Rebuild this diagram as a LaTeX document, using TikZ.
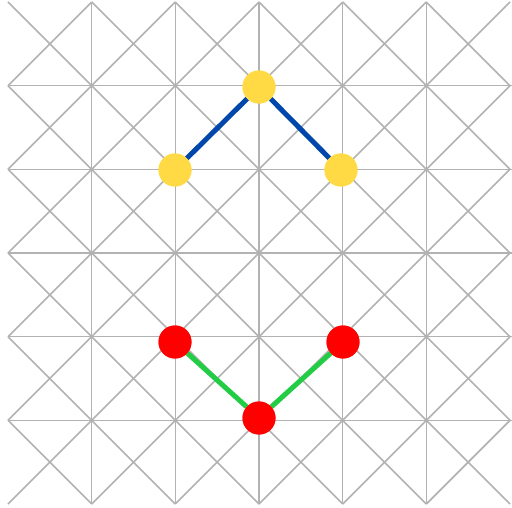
\documentclass[tikz,border=0pt]{standalone}
\begin{document}
\begin{tikzpicture}[x=1pt,y=-1pt,
  gridline/.style={draw=black!30,line width=1.6pt},
  yellowdot/.style={circle,fill=yellow!70!orange!90!white,inner sep=0pt,minimum size=33pt},
  reddot/.style={circle,fill=red,inner sep=0pt,minimum size=33pt},
  blueline/.style={draw=blue!70!black,line width=5pt},
  greenline/.style={draw=green!75!black!80!white,line width=5pt}]
\definecolor{ydot}{RGB}{255,218,68}
\definecolor{bl}{RGB}{0,71,171}
\definecolor{gr}{RGB}{34,204,68}
\tikzset{yellowdot/.append style={fill=ydot},blueline/.append style={draw=bl},greenline/.append style={draw=gr}}
\useasboundingbox (0,0) rectangle (512,508);
\begin{scope}
\clip (0,0) rectangle (512,508);
\foreach \i in {0,...,5}{
  \foreach \j in {0,...,5}{
    \path[gridline] ({8+83.67*\i},{2+83.67*\j}) -- ({8+83.67*(\i+1)},{2+83.67*(\j+1)});
    \path[gridline] ({8+83.67*(\i+1)},{2+83.67*\j}) -- ({8+83.67*\i},{2+83.67*(\j+1)});
  }
}
\foreach \k in {1,...,5}{
  \path[gridline] ({8+83.67*\k},2) -- ({8+83.67*\k},504);
  \path[gridline] (8,{2+83.67*\k}) -- (512,{2+83.67*\k});
}
\end{scope}
\node[yellowdot] (y1) at (259,87) {};
\node[yellowdot] (y2) at (175,170) {};
\node[yellowdot] (y3) at (341,170) {};
\node[reddot] (r1) at (175,342) {};
\node[reddot] (r2) at (343,342) {};
\node[reddot] (r3) at (259,418) {};
\begin{scope}[on background layer/.style={}]
\end{scope}
\path[blueline] (y2) -- (y1) -- (y3);
\path[greenline] (r1) -- (r3) -- (r2);
\node[yellowdot] at (y1) {};
\node[yellowdot] at (y2) {};
\node[yellowdot] at (y3) {};
\node[reddot] at (r1) {};
\node[reddot] at (r2) {};
\node[reddot] at (r3) {};
\end{tikzpicture}
\end{document}
